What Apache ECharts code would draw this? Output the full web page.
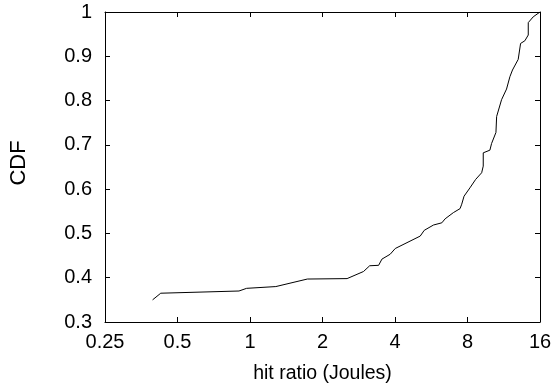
<!DOCTYPE html>
<html>
<head>
<meta charset="utf-8">
<script src="https://cdn.jsdelivr.net/npm/echarts@6/dist/echarts.min.js"></script>
<style>html,body{margin:0;padding:0;background:#fff;}#c{width:555px;height:389px;}</style>
</head>
<body>
<div id="c"></div>
<script>
const xTicks = [0.25, 0.5, 1, 2, 4, 8, 16];
const yTicks = [0.3, 0.4, 0.5, 0.6, 0.7, 0.8, 0.9, 1];
const energy = [0.394, 0.426, 0.90, 0.968, 1.28, 1.73, 2.53, 2.96, 3.14, 3.42, 3.53, 3.82, 4.01, 5.09, 5.29, 5.78, 6.26, 6.46, 6.99, 7.45, 7.57, 7.74, 8.19, 8.65, 9.16, 9.30, 9.30, 9.91, 10.07, 10.50, 10.57, 11.08, 11.62, 12.0, 12.3, 12.99, 13.29, 13.84, 14.3, 14.3, 14.99, 16];
const cdf = [0.35, 0.365, 0.37, 0.376, 0.380, 0.397, 0.398, 0.414, 0.427, 0.428, 0.442, 0.453, 0.466, 0.494, 0.507, 0.519, 0.524, 0.533, 0.547, 0.556, 0.566, 0.584, 0.603, 0.622, 0.637, 0.652, 0.682, 0.688, 0.703, 0.728, 0.764, 0.802, 0.826, 0.854, 0.869, 0.893, 0.929, 0.935, 0.948, 0.976, 0.989, 1.0];

const FONT = "'Liberation Sans', Arial, sans-serif";
const chart = echarts.init(document.getElementById('c'), null, {renderer: 'canvas'});
const axisLine = {show: true, lineStyle: {color: '#000', width: 1}};
const axisTick = {show: true, inside: true, length: 5, lineStyle: {color: '#000', width: 1}};
function fmtX(v) { return String(Math.round(v * 100) / 100); }
chart.setOption({
  animation: false,
  backgroundColor: '#fff',
  grid: {left: 104, right: 15, top: 12, bottom: 66, containLabel: false},
  xAxis: [{
    type: 'log', logBase: 2, min: xTicks[0], max: xTicks[xTicks.length - 1],
    position: 'bottom',
    name: 'hit ratio (Joules)', nameLocation: 'middle', nameGap: 42,
    nameTextStyle: {fontFamily: FONT, fontSize: 19.5, color: '#000'},
    axisLine: axisLine, axisTick: axisTick,
    axisLabel: {fontFamily: FONT, fontSize: 20, color: '#000', margin: 10, formatter: fmtX, showMinLabel: true, showMaxLabel: true},
    splitLine: {show: false}, minorTick: {show: false}
  }, {
    type: 'log', logBase: 2, min: xTicks[0], max: xTicks[xTicks.length - 1],
    position: 'top',
    axisLine: axisLine, axisTick: axisTick, axisLabel: {show: false}, splitLine: {show: false}
  }],
  yAxis: [{
    type: 'value', min: yTicks[0], max: yTicks[yTicks.length - 1], interval: 0.1,
    position: 'left',
    name: 'CDF', nameLocation: 'middle', nameGap: 75, nameRotate: 90,
    nameTextStyle: {fontFamily: FONT, fontSize: 22, color: '#000', padding: [0, 0, 0, 8]},
    axisLine: axisLine, axisTick: axisTick,
    axisLabel: {fontFamily: FONT, fontSize: 20, color: '#000', margin: 13, formatter: function (v) { return String(Math.round(v * 10) / 10); }},
    splitLine: {show: false}
  }, {
    type: 'value', min: yTicks[0], max: yTicks[yTicks.length - 1], interval: 0.1,
    position: 'right',
    axisLine: axisLine, axisTick: axisTick, axisLabel: {show: false}, splitLine: {show: false}
  }],
  series: [{
    type: 'line',
    data: energy.map((e, i) => [e, cdf[i]]),
    showSymbol: false, symbol: 'none',
    lineStyle: {color: '#000', width: 1},
    xAxisIndex: 0, yAxisIndex: 0
  }]
});
</script>
</body>
</html>
